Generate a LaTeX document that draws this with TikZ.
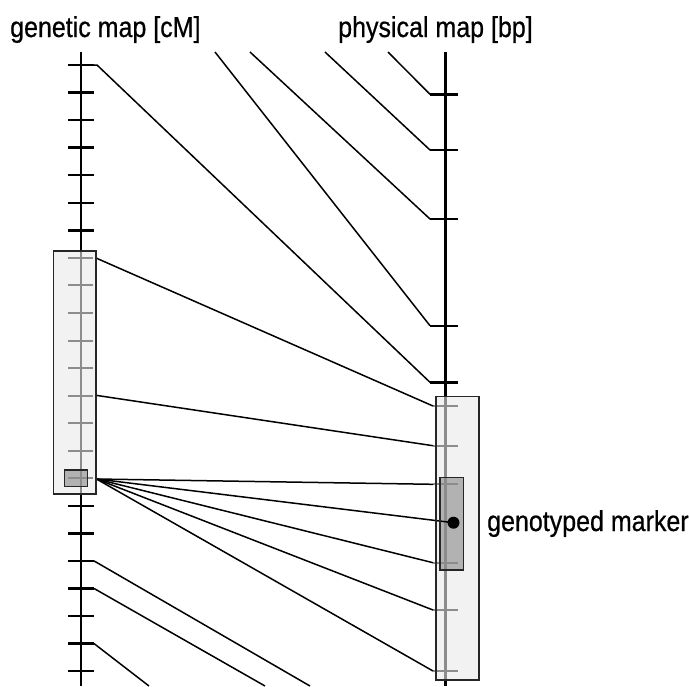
\documentclass[tikz,border=0pt]{standalone}
\usepackage{fontspec}
\setmainfont{Liberation Sans}
\newfontfamily\lblfont[FakeBold=0.7]{Liberation Sans}
\definecolor{boxfill}{RGB}{242,242,242}
\definecolor{darkfill}{RGB}{178,178,178}
\definecolor{inaxis}{RGB}{140,140,140}
\newcommand{\tallt}[1]{\scalebox{1}[1.15]{#1}}
\begin{document}
\begin{tikzpicture}[x=1pt,y=-1pt,
  axisline/.style={line width=2.6pt,black},
  gaxisline/.style={line width=2.2pt,inaxis},
  mtick/.style={line width=2.4pt,black},
  gtick/.style={line width=2pt,inaxis},
  conn/.style={line width=1.5pt,black},
  boxfillst/.style={fill=boxfill},
  dboxfillst/.style={fill=darkfill},
  boxborder/.style={draw=black!85,line width=1.3pt},
  lbl/.style={font=\lblfont\fontsize{25}{29}\selectfont,inner sep=0pt,anchor=base west}
]
\useasboundingbox (0,0) rectangle (690,686);
% box fills
\fill[boxfillst] (53.3,251) rectangle (96,494);
\fill[boxfillst] (436,396.7) rectangle (479,680);
\fill[dboxfillst] (64.3,470) rectangle (87.3,486.7);
\fill[dboxfillst] (440,477.3) rectangle (463.3,570);
% left axis
\draw[axisline] (81,52) -- (81,251);
\draw[gaxisline] (81,251) -- (81,494);
\draw[axisline] (81,494) -- (81,686);
% left ticks
\foreach \k in {0,...,22}{
  \pgfmathsetmacro\yy{65+27.55*\k}
  \ifnum\k<7
    \draw[mtick] (68,\yy) -- (94,\yy);
  \else\ifnum\k>15
    \draw[mtick] (68,\yy) -- (94,\yy);
  \else
    \draw[gtick] (68,\yy) -- (93,\yy);
  \fi\fi
  \coordinate (L\k) at (94,\yy);
}
% right axis
\draw[axisline] (445.5,52) -- (445.5,396.7);
\draw[gaxisline] (445.5,396.7) -- (445.5,680);
\draw[axisline] (445.5,680) -- (445.5,686);
% right ticks
\foreach \n/\yy in {1/94.3,2/150,3/219,4/325.7,5/382.3}{
  \draw[mtick] (430,\yy) -- (458,\yy);
  \coordinate (R\n) at (430,\yy);
}
\foreach \n/\yy in {1/406,2/445.7,3/484.3,4/562.7,5/610,6/671}{
  \draw[gtick] (433,\yy) -- (458,\yy);
  \coordinate (G\n) at (433,\yy);
}
% free ends and special points
\coordinate (t1) at (388,52);
\coordinate (t2) at (325,52);
\coordinate (t3) at (250,52);
\coordinate (t4) at (215,52);
\coordinate (b1) at (310,686);
\coordinate (b2) at (265,686);
\coordinate (b3) at (149,686);
\coordinate (F) at (96.5,479);
\coordinate (top0) at (97,65);
\coordinate (dot) at (453.5,522.7);
% connectors
\draw[conn] (t1) -- (R1);
\draw[conn] (t2) -- (R2);
\draw[conn] (t3) -- (R3);
\draw[conn] (t4) -- (R4);
\draw[conn] (L0) -- (top0) -- (R5);
\draw[conn] (96,258) -- (G1);
\draw[conn] (96,395.3) -- (G2);
\foreach \g in {G3,G4,G5,G6}{\draw[conn] (F) -- (\g);}
\draw[conn] (F) -- (dot);
\draw[conn] (L18) -- (b1);
\draw[conn] (L19) -- (b2);
\draw[conn] (L21) -- (b3);
% box borders
\draw[boxborder] (53.3,251) rectangle (96,494);
\draw[boxborder] (436,396.7) rectangle (479,680);
\draw[boxborder] (64.3,470) rectangle (87.3,486.7);
\draw[boxborder] (440,477.3) rectangle (463.3,570);
% dot
\fill[black] (dot) circle (6);
% labels
\node[lbl] (gm) at (10,37) {\tallt{genetic map [cM]}};
\node[lbl] (pm) at (338,37) {\tallt{physical map [bp]}};
\node[lbl] (gt) at (487,531) {\tallt{genotyped marker}};
\end{tikzpicture}
\end{document}
